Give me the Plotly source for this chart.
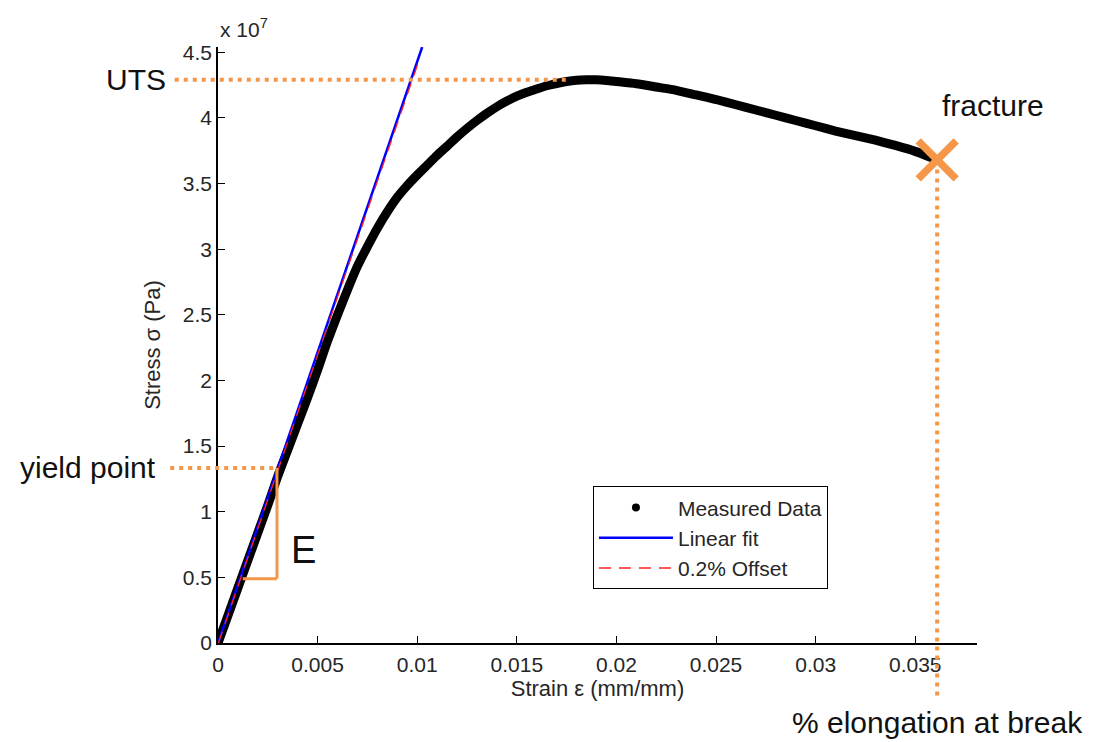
import plotly.graph_objects as go

# ---------------- data ----------------
strain = [0, 0.0005, 0.001, 0.0015, 0.002, 0.0025, 0.003, 0.0035, 0.004, 0.0045,
          0.005, 0.0055, 0.006, 0.0065, 0.007, 0.0075, 0.008, 0.0085, 0.009, 0.0095,
          0.010, 0.0105, 0.011, 0.0115, 0.012, 0.0125, 0.013, 0.0135, 0.014, 0.0145,
          0.015, 0.0155, 0.016, 0.0165, 0.017, 0.0175, 0.018, 0.0185, 0.019, 0.0195,
          0.020, 0.021, 0.022, 0.023, 0.024, 0.025, 0.026, 0.027, 0.028, 0.029,
          0.030, 0.031, 0.032, 0.033, 0.034, 0.035, 0.0361]
stress_e7 = [0, 0.21, 0.42, 0.63, 0.84, 1.05, 1.27, 1.47, 1.67, 1.87,
             2.08, 2.30, 2.50, 2.69, 2.87, 3.02, 3.16, 3.285, 3.395, 3.485,
             3.565, 3.64, 3.715, 3.785, 3.855, 3.92, 3.98, 4.035, 4.085, 4.128,
             4.165, 4.195, 4.22, 4.245, 4.262, 4.277, 4.287, 4.29, 4.29, 4.285,
             4.277, 4.26, 4.235, 4.21, 4.175, 4.14, 4.10, 4.06, 4.02, 3.98,
             3.94, 3.90, 3.865, 3.83, 3.79, 3.745, 3.68]
stress = [v * 1e7 for v in stress_e7]

fit_strain = [0, 0.01025]
fit_stress = [0, 4.54e7]
offset_strain = [0.00002, 0.01005]
offset_stress = [0, 4.42e7]

yield_strain = 0.00296
yield_stress = 1.334e7
tri_left_strain = 0.00124
tri_bottom_stress = 0.49e7
uts_stress = 4.29e7
uts_strain = 0.0177
fracture_strain = 0.0361
fracture_stress = 3.68e7

x_ticks = [0, 0.005, 0.01, 0.015, 0.02, 0.025, 0.03, 0.035]
x_ticktext = ["0", "0.005", "0.01", "0.015", "0.02", "0.025", "0.03", "0.035"]
y_ticks_e7 = [0, 0.5, 1, 1.5, 2, 2.5, 3, 3.5, 4, 4.5]
y_ticktext = ["0", "0.5", "1", "1.5", "2", "2.5", "3", "3.5", "4", "4.5"]

XMAX = 0.0381
YMAX = 4.54e7

ORANGE = "rgb(245,150,72)"
TICKFONT = dict(family="Liberation Sans, Arial", size=21, color="#262626")
TITLEFONT = dict(family="Liberation Sans, Arial", size=22, color="#262626")
BIGFONT = dict(family="Liberation Sans, Arial", size=30, color="#111111")

fig = go.Figure()

fig.add_trace(go.Scatter(x=strain, y=stress, mode="lines",
                         line=dict(color="black", width=9, shape="spline", smoothing=0.6),
                         showlegend=False, hoverinfo="skip"))
fig.add_trace(go.Scatter(x=[None], y=[None], mode="markers",
                         marker=dict(color="black", size=8),
                         name="Measured Data"))
fig.add_trace(go.Scatter(x=fit_strain, y=fit_stress, mode="lines",
                         line=dict(color="#0000ff", width=2.5),
                         name="Linear fit"))
fig.add_trace(go.Scatter(x=offset_strain, y=offset_stress, mode="lines",
                         line=dict(color="#ff2020", width=1.3, dash="12px,8px"),
                         name="0.2% Offset"))
fig.add_trace(go.Scatter(x=[fracture_strain], y=[fracture_stress], mode="markers",
                         marker=dict(symbol="x-thin", size=38, color=ORANGE,
                                     line=dict(color=ORANGE, width=7.5)),
                         showlegend=False, hoverinfo="skip"))

dot = dict(color=ORANGE, width=4, dash="4px,5px")
shapes = [
    # UTS horizontal dotted line
    dict(type="line", xref="paper", yref="y", x0=-0.057, x1=uts_strain / XMAX,
         y0=uts_stress, y1=uts_stress, line=dot),
    # yield horizontal dotted line
    dict(type="line", xref="paper", yref="y", x0=-0.063, x1=yield_strain / XMAX,
         y0=yield_stress, y1=yield_stress, line=dot),
    # fracture vertical dotted line
    dict(type="line", xref="x", yref="paper", x0=fracture_strain, x1=fracture_strain,
         y0=-0.088, y1=fracture_stress / YMAX, line=dot),
    # E triangle
    dict(type="line", xref="x", yref="y", x0=yield_strain, x1=yield_strain,
         y0=tri_bottom_stress, y1=yield_stress, line=dict(color=ORANGE, width=3)),
    dict(type="line", xref="x", yref="y", x0=tri_left_strain, x1=yield_strain,
         y0=tri_bottom_stress, y1=tri_bottom_stress, line=dict(color=ORANGE, width=3)),
]

annotations = [
    dict(text="x 10<sup>7</sup>", xref="paper", yref="paper", x=0, y=1,
         xanchor="left", yanchor="bottom", yshift=4, showarrow=False, font=TICKFONT),
    dict(text="UTS", xref="paper", yref="y", x=0, y=uts_stress, xanchor="right",
         yanchor="middle", xshift=-50, showarrow=False, font=BIGFONT),
    dict(text="yield point", xref="paper", yref="y", x=0, y=yield_stress, xanchor="right",
         yanchor="middle", xshift=-60, showarrow=False, font=BIGFONT),
    dict(text="fracture", xref="x", yref="y", x=fracture_strain, y=fracture_stress,
         xanchor="center", yanchor="middle", xshift=56, yshift=54, showarrow=False,
         font=BIGFONT),
    dict(text="% elongation at break", xref="x", yref="paper", x=fracture_strain,
         y=-0.133, xanchor="center", yanchor="middle", showarrow=False, font=BIGFONT),
    dict(text="E", xref="x", yref="y", x=yield_strain, y=0.71e7, xanchor="left",
         yanchor="middle", xshift=12, showarrow=False,
         font=dict(family="Liberation Sans, Arial", size=38, color="#111111")),
]

# page body has an 8px margin, so the figure is sized to fit the window
fig.update_layout(
    width=1091, height=734,
    margin=dict(l=210, r=122, t=39, b=99),
    paper_bgcolor="white", plot_bgcolor="white",
    shapes=shapes, annotations=annotations,
    legend=dict(x=0.494, y=0.263, xanchor="left", yanchor="top",
                bordercolor="black", borderwidth=1, bgcolor="white",
                font=dict(family="Liberation Sans, Arial", size=21, color="#262626"),
                itemwidth=74),
    xaxis=dict(range=[0, XMAX], tickvals=x_ticks, ticktext=x_ticktext,
               showgrid=False, zeroline=False, showline=True, linecolor="black",
               linewidth=1.5, ticks="inside", ticklen=7, tickcolor="black",
               tickfont=TICKFONT, ticklabelstandoff=2,
               title=dict(text="Strain ε (mm/mm)", font=TITLEFONT, standoff=6)),
    yaxis=dict(range=[0, YMAX], tickvals=[v * 1e7 for v in y_ticks_e7],
               ticktext=y_ticktext,
               showgrid=False, zeroline=False, showline=True, linecolor="black",
               linewidth=1.5, ticks="inside", ticklen=7, tickcolor="black",
               tickfont=TICKFONT,
               title=dict(text="Stress σ (Pa)", font=TITLEFONT, standoff=16)),
)

fig.write_html("out.html")
